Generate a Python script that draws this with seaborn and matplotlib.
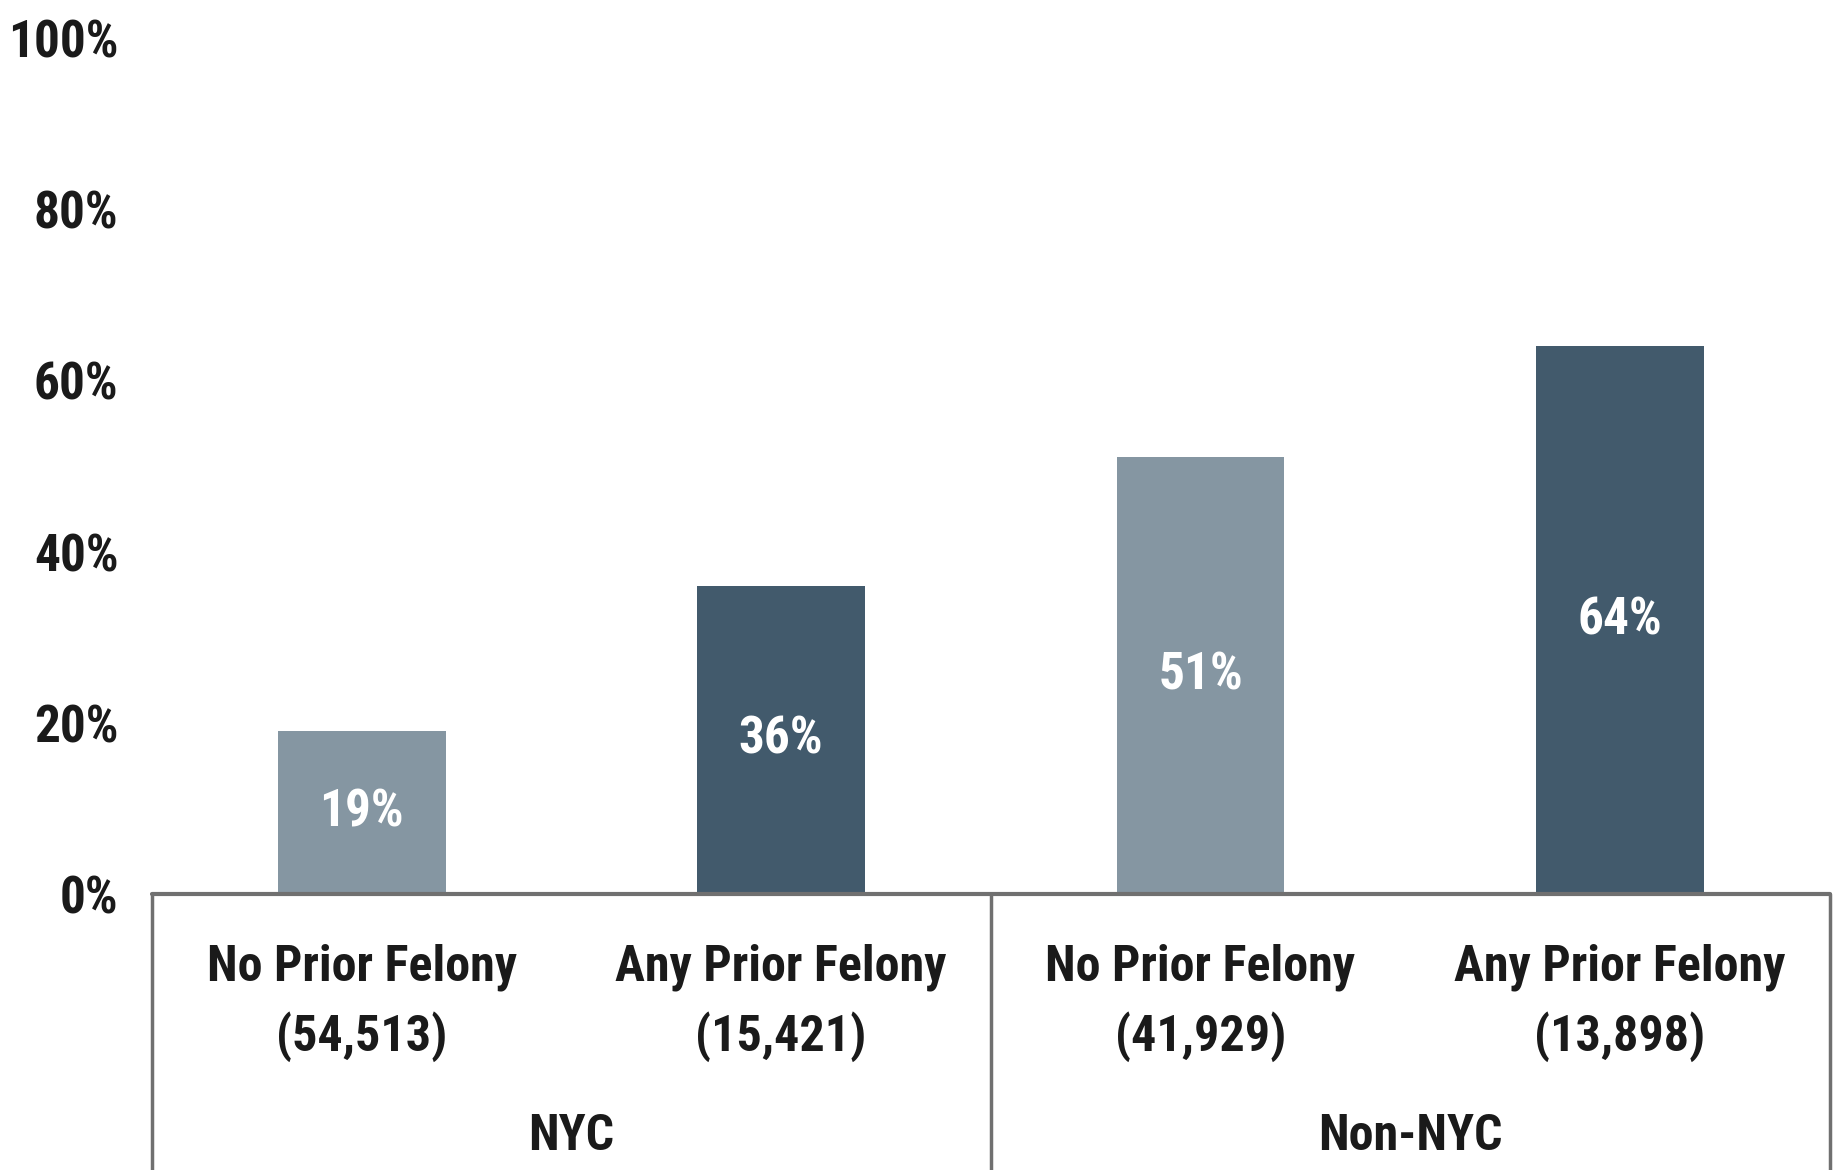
import matplotlib
matplotlib.use("Agg")
import matplotlib.pyplot as plt
import matplotlib.transforms as mtransforms
import seaborn as sns
import pandas as pd

categories = ["No Prior Felony", "Any Prior Felony", "No Prior Felony", "Any Prior Felony"]
counts = ["(54,513)", "(15,421)", "(41,929)", "(13,898)"]
regions = ["NYC", "NYC", "Non-NYC", "Non-NYC"]
values = [19, 36, 51, 64]
group_names = ["NYC", "Non-NYC"]
yticks = [0, 20, 40, 60, 80, 100]

light = "#8596a2"
dark = "#425a6c"
bar_colors = [light, dark, light, dark]

sns.set_theme(style="white")
plt.rcParams["font.family"] = ["Roboto Condensed", "Liberation Sans", "DejaVu Sans"]
plt.rcParams["font.weight"] = "bold"

FS = 36
TXT = "#1a1a1a"

df = pd.DataFrame({"key": [f"{r}|{c}" for r, c in zip(regions, categories)],
                   "value": values})

fig = plt.figure(figsize=(18.37, 11.70), dpi=100)
ax = fig.add_axes([0.0827, 0.236, 0.9133, 0.7315])

sns.barplot(data=df, x="key", y="value", hue="key", palette=bar_colors,
            legend=False, width=0.40, saturation=1, ax=ax, edgecolor="none")

ax.set_ylim(0, 100)
ax.set_xlim(-0.5, 3.5)
ax.set_yticks(yticks)
ax.set_yticklabels([f"{t}%" for t in yticks], fontsize=FS + 1, fontweight="bold", color=TXT)
ax.tick_params(axis="y", length=0, pad=24)
ax.set_xticks([])
ax.set_xlabel("")
ax.set_ylabel("")
for s in ax.spines.values():
    s.set_visible(False)

# value labels
for i, v in enumerate(values):
    ax.text(i, v / 2, f"{v}%", ha="center", va="center", color="white",
            fontsize=FS + 1, fontweight="bold")

trans = mtransforms.blended_transform_factory(ax.transData, ax.transAxes)

# table lines
line_col = "#707070"
ax.plot([-0.5, 3.5], [0, 0], transform=trans, color=line_col, lw=3, clip_on=False, zorder=5)
for xv in [-0.5, 1.5, 3.5]:
    ax.plot([xv, xv], [0, -0.35], transform=trans, color=line_col, lw=2.5,
            clip_on=False, zorder=5)

# category labels
for i, (c, n) in enumerate(zip(categories, counts)):
    ax.text(i, -0.0853, c, transform=trans, ha="center", va="center",
            fontsize=FS, fontweight="bold", color=TXT)
    ax.text(i, -0.167, n, transform=trans, ha="center", va="center",
            fontsize=FS, fontweight="bold", color=TXT)

for gi, g in enumerate(group_names):
    ax.text(gi * 2 + 0.5, -0.283, g, transform=trans, ha="center", va="center",
            fontsize=FS, fontweight="bold", color=TXT)

fig.savefig("out.png", dpi=100)
